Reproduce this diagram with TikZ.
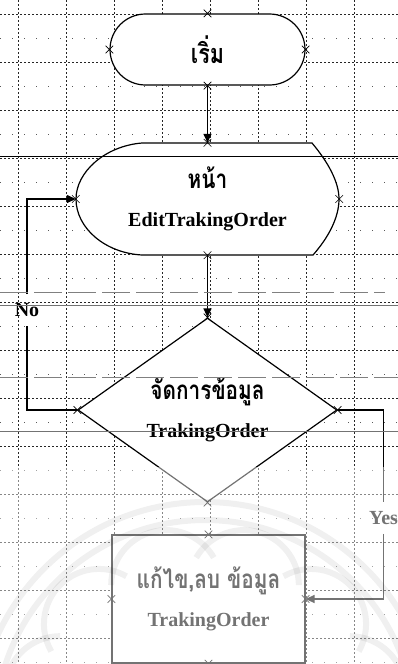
\documentclass[tikz,border=0pt]{standalone}
\usepackage{fontspec}
\setmainfont{Liberation Serif}
\newfontfamily\thaifont[Script=Thai,FakeStretch=0.8]{Loma}
\usetikzlibrary{shapes.geometric,shapes.misc,arrows.meta,calc}

\begin{document}
\begin{tikzpicture}[x=1pt,y=-1pt,
    gridmaj/.style={black!85,line width=0.75pt,dash pattern=on 1.5pt off 2.5pt},
    gridmin/.style={black!65,line width=0.7pt,dash pattern=on 1pt off 11pt},
    xm/.style={cross out,draw,line width=0.6pt,minimum size=7pt,inner sep=0pt},
    flow/.style={line width=1.4pt,-{Triangle[length=9pt,width=8pt]}},
    lab/.style={font=\bfseries\fontsize{20}{38}\selectfont,align=center},
    th/.style={font=\thaifont\fontsize{26}{30}\selectfont},
    shp/.style={draw,line width=1.2pt,fill=white},
    yn/.style={lab,inner xsep=1pt,inner ysep=9pt}]
\useasboundingbox (0,0) rectangle (398,664);
\fill[white] (0,0) rectangle (398,664);
% grid
\foreach \x in {18,66,...,354} \draw[gridmaj] (\x,0) -- (\x,664);
\foreach \y in {14,62,...,638} \draw[gridmaj] (0,\y) -- (398,\y);
\foreach \y in {38,86,...,662} \draw[gridmin] (0,\y) -- (398,\y);
% shapes
\node[shp,lab,rounded rectangle,minimum width=195pt,minimum height=71pt,inner sep=0pt]
  (start) at (207.5,49.5) {\thaifont\fontsize{27}{30}\selectfont เริ่ม};
\draw[shp] (142,143) -- (312,143) .. controls (328,162) and (339,182) .. (339,199)
  .. controls (339,218) and (328,238) .. (313,255) -- (142,255)
  .. controls (105,253) and (76,228) .. (76,199) .. controls (76,172) and (105,146) .. cycle;
\node[lab,minimum width=263pt,minimum height=112pt,inner sep=0pt]
  (page) at (207.5,199) {{\thaifont\fontsize{26}{30}\selectfont หน้า}\\EditTrakingOrder};
\node[shp,lab,diamond,minimum width=259pt,minimum height=184pt,inner sep=0pt,aspect=1.4]
  (dec) at (207.5,410) {{\thaifont\fontsize{26}{30}\selectfont จัดการข้อมูล}\\TrakingOrder};
\node[shp,lab,rectangle,minimum width=193pt,minimum height=128pt,inner sep=0pt]
  (edit) at (208.5,599) {{\thaifont\fontsize{26}{30}\selectfont แก้ไข,ลบ ข้อมูล}\\TrakingOrder};
\node[yn] (no) at (27,310) {No};
\node[yn] (yes) at (383.5,518) {Yes};
% connectors
\draw[flow] (start.south) -- (page.north);
\draw[flow] (page.south) -- (dec.north);
\draw[line width=1.4pt] (dec.west) -| (no);
\draw[flow] (no) |- (page.west);
\draw[line width=1.4pt] (dec.east) -| (yes);
\draw[flow] (yes) |- (edit.east);
% connection points
\foreach \n in {start,page,dec,edit}
  \foreach \a in {north,south,east,west}
    \node[xm] (\n-\a) at (\n.\a) {};
% scan lines
\draw[line width=0.9pt] (0,156) -- (398,156);
\draw[black!50,line width=0.6pt,dash pattern=on 28pt off 6pt] (0,292) -- (385,292);
\draw[black!55,line width=0.7pt] (0,305) -- (398,305);
\draw[black!50,line width=0.6pt,dash pattern=on 28pt off 6pt] (0,377) -- (398,377);
\draw[black!55,line width=0.7pt] (0,431) -- (398,431);
% faded lower part and watermark
\fill[white,opacity=0.45] (0,467) rectangle (398,664);
\begin{scope}[black,opacity=0.06,line width=6pt]
  \draw (205,730) circle (228);
  \draw (205,730) circle (210);
  \foreach \t in {-165,-135,-105,-75,-45,-15}
    \draw ($(205,730)+(\t:150)+(\t-75:55)$)
      arc[start angle=\t-75,end angle=\t+75,radius=55];
\end{scope}
\end{tikzpicture}
\end{document}
